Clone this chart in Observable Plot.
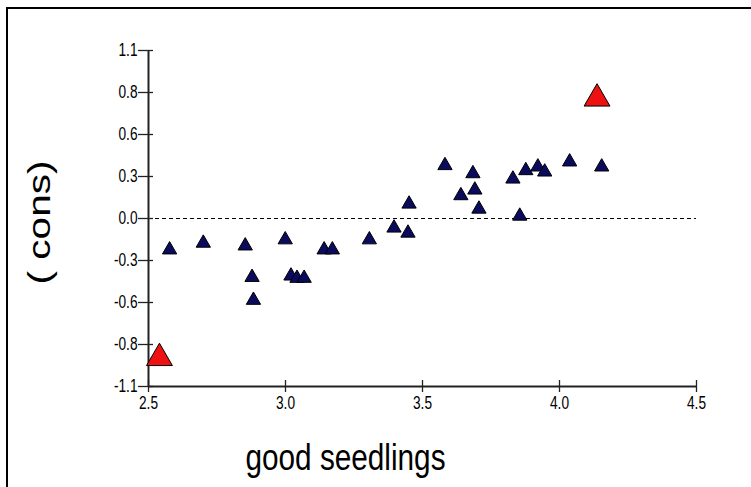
<!DOCTYPE html>
<html><head><meta charset="utf-8">
<script src="https://cdn.jsdelivr.net/npm/d3@7"></script>
<script src="https://cdn.jsdelivr.net/npm/@observablehq/plot@0.6"></script>
<style>
body{margin:0;background:#fff;}
#wrap{position:relative;width:751px;height:487px;overflow:hidden;background:#fff;}
#border{position:absolute;left:6px;top:7px;right:-10px;bottom:-10px;border-top:2px solid #000;border-left:2px solid #000;pointer-events:none;}
</style></head><body>
<div id="wrap"><div id="border"></div></div>
<script>
const xValues = [2.577, 2.700, 2.853, 2.878, 2.883, 2.999, 3.020, 3.042, 3.068, 3.141, 3.171, 3.306, 3.396, 3.447, 3.451, 3.582, 3.640, 3.684, 3.691, 3.706, 3.830, 3.855, 3.877, 3.921, 3.946, 4.037, 4.154];
const yValues = [-0.205, -0.161, -0.179, -0.385, -0.535, -0.139, -0.376, -0.391, -0.391, -0.205, -0.205, -0.139, -0.062, -0.095, 0.095, 0.347, 0.150, 0.294, 0.187, 0.062, 0.259, 0.016, 0.314, 0.338, 0.305, 0.371, 0.338];
const highlightX = [2.54, 4.137];
const highlightY = [-0.914, 0.785];
const xTicks = [2.5, 3.0, 3.5, 4.0, 4.5];
const yTicks = [1.1, 0.825, 0.55, 0.275, 0, -0.275, -0.55, -0.825, -1.1];
const yTickLabels = ["1.1", "0.8", "0.6", "0.3", "0.0", "-0.3", "-0.6", "-0.8", "-1.1"];
const xLabel = "good seedlings";
const yLabel = "( cons)";

const points = xValues.map((x, i) => ({x, y: yValues[i]}));
const highlights = highlightX.map((x, i) => ({x, y: highlightY[i]}));
const font = "'Liberation Sans', Arial, sans-serif";

const chart = Plot.plot({
  width: 751, height: 487,
  marginLeft: 148, marginRight: 55, marginTop: 50, marginBottom: 101,
  style: {background: "transparent", fontFamily: font, fontSize: "18px", color: "#000"},
  x: {domain: [2.5, 4.5]},
  y: {domain: [-1.1, 1.1]},
  marks: [
    Plot.ruleY([0], {stroke: "#000", strokeDasharray: "4,3", strokeWidth: 1}),
    Plot.axisX({ticks: xTicks, tickFormat: d => d.toFixed(1), tickSize: 12, dy: -6, tickPadding: 4, fontSize: 18, label: null, stroke: "#222", strokeWidth: 1.3}),
    Plot.axisY({ticks: yTicks, tickFormat: d => yTickLabels[yTicks.indexOf(d)], tickSize: 15, dx: 5, tickPadding: 1, fontSize: 18, label: null, stroke: "#222", strokeWidth: 1.3}),
    Plot.ruleX([2.5], {stroke: "#222", strokeWidth: 2}),
    Plot.ruleY([-1.1], {stroke: "#222", strokeWidth: 2}),
    Plot.dot(points, {x: "x", y: "y", symbol: "triangle", r: 5.3, fill: "#0b0b5e", stroke: "#000", strokeWidth: 1}),
    Plot.dot(highlights, {x: "x", y: "y", symbol: "triangle", r: 9.6, fill: "#ee1111", stroke: "#000", strokeWidth: 1}),
    Plot.text([xLabel], {text: d => d, frameAnchor: "bottom", textAnchor: "middle", lineAnchor: "middle", dx: -77, dy: 72, fontSize: 36, fill: "#000"}),
    Plot.text([yLabel], {text: d => d, frameAnchor: "left", textAnchor: "middle", lineAnchor: "middle", dx: -108, dy: 4, rotate: -90, fontSize: 31, fill: "#000"})
  ]
});
document.getElementById("wrap").prepend(chart);
const svg = d3.select(chart.tagName.toLowerCase() === "svg" ? chart : chart.querySelector("svg"));
svg.selectAll("g[aria-label$='tick label']").style("font-size", "18px")
  .selectAll("text").style("font-size", "18px").each(function() {
    const len = this.getComputedTextLength();
    if (len > 0) d3.select(this).attr("textLength", len * 0.76).attr("lengthAdjust", "spacingAndGlyphs");
  });
svg.selectAll("text").each(function() {
  const t = this.textContent;
  if (t === xLabel) d3.select(this).attr("textLength", 200).attr("lengthAdjust", "spacingAndGlyphs");
  if (t === yLabel) d3.select(this).attr("textLength", 124).attr("lengthAdjust", "spacingAndGlyphs");
});
</script>
</body></html>
